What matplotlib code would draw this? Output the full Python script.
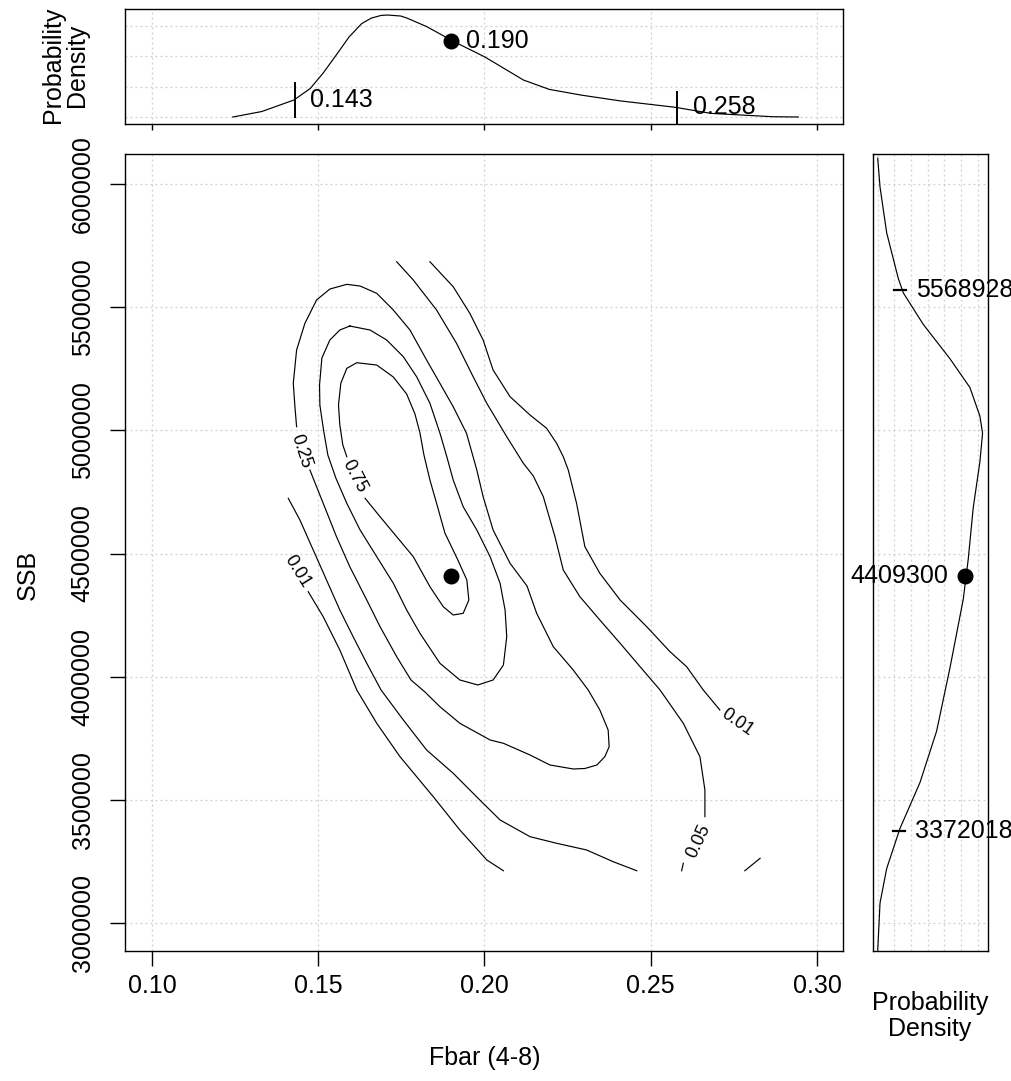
import matplotlib
matplotlib.use('Agg')
import matplotlib.pyplot as plt

plt.rcParams['font.family'] = ['Liberation Sans', 'DejaVu Sans']

# ---------------- data ----------------
# marginal density of Fbar (top panel)
fbar_x = [0.1243, 0.1330, 0.1427, 0.1476, 0.1515, 0.1554, 0.1593, 0.1631, 0.1660,
          0.1690, 0.1709, 0.1748, 0.1767, 0.1826, 0.1909, 0.2001, 0.2117, 0.2195,
          0.2292, 0.2409, 0.2574, 0.2681, 0.2866, 0.2944]
fbar_dens = [0.0, 0.9, 2.8, 4.7, 7.25, 10.2, 13.2, 15.4, 16.3,
             16.75, 16.8, 16.64, 16.3, 14.9, 12.4, 9.9, 6.1, 4.55,
             3.6, 2.65, 1.6, 0.6, 0.05, 0.0]
fbar_est, fbar_est_dens = 0.190, 12.45
fbar_lo, fbar_lo_dens = 0.143, 2.85
fbar_hi, fbar_hi_dens = 0.258, 1.6

# marginal density of SSB (right panel)
ssb_y = [6105000, 5988000, 5802000, 5616000, 5558000, 5430000, 5291000, 5174000,
         5058000, 4988000, 4872000, 4686000, 4477000, 4314000, 4035000, 3779000,
         3570000, 3384000, 3221000, 3081000, 2942000, 2890000]
ssb_dens = [0.0, 0.07, 0.27, 0.62, 0.77, 1.37, 2.17, 2.77,
            3.07, 3.15, 3.07, 2.87, 2.72, 2.57, 2.17, 1.77,
            1.27, 0.67, 0.27, 0.07, 0.02, 0.0]
ssb_est, ssb_est_dens = 4409300, 2.62
ssb_lo, ssb_lo_dens = 3372018, 0.64
ssb_hi, ssb_hi_dens = 5568928, 0.66

# contour lines of the joint density (Fbar, SSB)
c075_f = [0.1641, 0.1686, 0.1736, 0.1786, 0.1836, 0.1876, 0.1906, 0.1936, 0.1953,
          0.1947, 0.1920, 0.1881, 0.1856, 0.1836, 0.1818, 0.1806, 0.1791, 0.1766,
          0.1726, 0.1676, 0.1616, 0.1586, 0.1568, 0.1561, 0.1565, 0.1574, 0.1586]
c075_s = [4724100, 4649400, 4568200, 4487000, 4365200, 4284100, 4250400, 4257200, 4311200,
          4392400, 4473600, 4583200, 4703800, 4798400, 4899900, 4989200, 5066300, 5147500,
          5216500, 5265200, 5274600, 5251800, 5191000, 5102900, 5021700, 4940500, 4893000]

c050_f = [0.1595, 0.1656, 0.1706, 0.1756, 0.1796, 0.1836, 0.1866, 0.1887, 0.1906,
          0.1936, 0.1977, 0.2017, 0.2047, 0.2062, 0.2067, 0.2057, 0.2026, 0.1980,
          0.1926, 0.1866, 0.1806, 0.1766, 0.1726, 0.1676, 0.1626, 0.1586, 0.1553,
          0.1529, 0.1516, 0.1505, 0.1504, 0.1511, 0.1535, 0.1565, 0.1595]
c050_s = [5423600, 5407300, 5366700, 5298900, 5217700, 5109800, 4989200, 4891800, 4798400,
          4690000, 4595400, 4487000, 4379000, 4270600, 4162300, 4047400, 3986500, 3966200,
          3986500, 4054300, 4176100, 4270600, 4379000, 4487000, 4595400, 4703800, 4806500,
          4899900, 5001400, 5102900, 5184000, 5293600, 5366700, 5407300, 5423600]

c025_f = [0.1475, 0.1515, 0.1555, 0.1595, 0.1646, 0.1686, 0.1736, 0.1779, 0.1821,
          0.1866, 0.1926, 0.2017, 0.2057, 0.2137, 0.2197, 0.2267, 0.2302, 0.2338,
          0.2362, 0.2375, 0.2372, 0.2347, 0.2312, 0.2267, 0.2207, 0.2157, 0.2128,
          0.2077, 0.2026, 0.1996, 0.1977, 0.1946, 0.1906, 0.1866, 0.1826, 0.1776,
          0.1726, 0.1676, 0.1626, 0.1586, 0.1535, 0.1495, 0.1460, 0.1435, 0.1425,
          0.1430, 0.1435]
c025_s = [4839000, 4703800, 4568200, 4446400, 4311200, 4202900, 4081100, 3986500, 3937800,
          3878100, 3810700, 3742900, 3729500, 3682000, 3641400, 3625200, 3627200, 3641400,
          3675100, 3715700, 3783500, 3864700, 3945900, 4027100, 4121700, 4257200, 4368100,
          4460200, 4595400, 4730600, 4839000, 4988000, 5096000, 5191000, 5285500, 5407300,
          5488500, 5556300, 5585900, 5592800, 5573800, 5529100, 5434500, 5326100, 5191000,
          5096000, 5014800]

c005_right_f = [0.1736, 0.1786, 0.1856, 0.1916, 0.1966, 0.2007, 0.2067, 0.2117, 0.2147,
                0.2177, 0.2212, 0.2237, 0.2287, 0.2347, 0.2408, 0.2468, 0.2528, 0.2598,
                0.2648, 0.2663, 0.2663]
c005_right_s = [5684600, 5610300, 5488500, 5353300, 5217700, 5109800, 4974200, 4866200, 4814600,
                4730600, 4568200, 4433000, 4324700, 4230100, 4135500, 4040500, 3945900, 3810700,
                3675100, 3539900, 3431600]
c005_tail_f = [0.2598, 0.2593]
c005_tail_s = [3242400, 3212000]

c005_left_f = [0.1410, 0.1445, 0.1485, 0.1525, 0.1565, 0.1605, 0.1646, 0.1689, 0.1756,
               0.1826, 0.1906, 0.1986, 0.2047, 0.2137, 0.2217, 0.2307, 0.2387, 0.2458]
c005_left_s = [4724100, 4636000, 4514200, 4392400, 4270600, 4162300, 4054300, 3945900, 3824100,
               3702300, 3607700, 3499300, 3418100, 3350400, 3323600, 3296400, 3248900, 3212000]

c001_right_f = [0.1836, 0.1906, 0.1956, 0.1996, 0.2026, 0.2077, 0.2137, 0.2187, 0.2217,
                0.2237, 0.2252, 0.2277, 0.2302, 0.2347, 0.2408, 0.2488, 0.2558, 0.2608,
                0.2658, 0.2708]
c001_right_s = [5684600, 5583100, 5475100, 5366700, 5244900, 5136600, 5062300, 5008300, 4947400,
                4893000, 4839000, 4703800, 4527600, 4419600, 4311200, 4202900, 4101400, 4040500,
                3945900, 3864700]
c001_corner_f = [0.2783, 0.2829]
c001_corner_s = [3212000, 3262700]

c001_left_f = [0.1470, 0.1515, 0.1565, 0.1616, 0.1676, 0.1746, 0.1846, 0.1926, 0.2007, 0.2057]
c001_left_s = [4344900, 4243400, 4108300, 3945900, 3810700, 3675100, 3512700, 3377500,
               3255800, 3212000]

# contour labels: text, position, angle
clabels = [("0.25", 0.1447, 4916000, -72),
           ("0.75", 0.1608, 4814600, -62),
           ("0.01", 0.1436, 4428900, -58),
           ("0.05", 0.2645, 3333000, 65),
           ("0.01", 0.2759, 3816000, -35)]

x_ticks = [0.10, 0.15, 0.20, 0.25, 0.30]
y_ticks = [3000000, 3500000, 4000000, 4500000, 5000000, 5500000, 6000000]
top_grid = [0, 5, 10, 15]
right_grid = [0, 0.5, 1.0, 1.5, 2.0, 2.5, 3.0]

# ---------------- drawing ----------------
FS = 18
GRID = dict(color='#CFCFCF', lw=0.9, ls=(0, (1.5, 2.5)), zorder=0)

fig = plt.figure(figsize=(10.11, 10.81), dpi=100)
ax = fig.add_axes([0.1236, 0.1203, 0.7102, 0.7372])
axt = fig.add_axes([0.1236, 0.8853, 0.7102, 0.1064])
axr = fig.add_axes([0.8635, 0.1203, 0.1137, 0.7372])

xlim = (0.09188, 0.30782)
ylim = (2886400, 6121800)

# main panel
ax.set_xlim(*xlim)
ax.set_ylim(*ylim)
for v in x_ticks:
    ax.axvline(v, **GRID)
for v in y_ticks:
    ax.axhline(v, **GRID)

lk = dict(color='black', lw=0.85, zorder=2)
ax.plot(c075_f, c075_s, **lk)
ax.plot(c050_f, c050_s, **lk)
ax.plot(c025_f, c025_s, **lk)
ax.plot(c005_right_f, c005_right_s, **lk)
ax.plot(c005_tail_f, c005_tail_s, **lk)
ax.plot(c005_left_f, c005_left_s, **lk)
ax.plot(c001_right_f, c001_right_s, **lk)
ax.plot(c001_corner_f, c001_corner_s, **lk)
ax.plot(c001_left_f, c001_left_s, **lk)
for txt, fx, sy, rot in clabels:
    ax.text(fx, sy, txt, rotation=rot, ha='center', va='center', fontsize=13,
            rotation_mode='anchor', zorder=3)
ax.plot([fbar_est], [ssb_est], 'o', color='black', ms=10.5, zorder=4)

ax.set_xticks(x_ticks)
ax.set_xticklabels([f"{v:.2f}" for v in x_ticks])
ax.set_yticks(y_ticks)
ax.set_yticklabels([str(v) for v in y_ticks], rotation=90, va='center')
ax.tick_params(axis='both', direction='out', length=10.8, width=1.0, labelsize=FS,
               colors='black')
ax.tick_params(axis='x', pad=6)
ax.tick_params(axis='y', pad=11)

# top panel
axt.set_xlim(*xlim)
axt.set_ylim(-1.15, 17.8)
for v in x_ticks:
    axt.axvline(v, **GRID)
for v in top_grid:
    axt.axhline(v, **GRID)
axt.plot(fbar_x, fbar_dens, color='black', lw=0.85, zorder=2)
axt.plot([fbar_lo, fbar_lo], [fbar_lo_dens - 2.8, fbar_lo_dens + 2.8], color='black',
         lw=1.4, clip_on=False, zorder=3)
axt.plot([fbar_hi, fbar_hi], [fbar_hi_dens - 2.6, fbar_hi_dens + 2.6], color='black',
         lw=1.4, clip_on=False, zorder=3)
axt.plot([fbar_est], [fbar_est_dens], 'o', color='black', ms=10.5, zorder=4)
for v, d in [(fbar_lo, fbar_lo_dens), (fbar_est, fbar_est_dens), (fbar_hi, fbar_hi_dens)]:
    axt.annotate(f"{v:.3f}", xy=(v, d), xytext=(11, 0), textcoords='offset points',
                 ha='left', va='center', fontsize=FS, zorder=5)
axt.set_xticks(x_ticks)
axt.set_xticklabels([])
axt.set_yticks([])
axt.tick_params(axis='x', direction='out', length=4, width=1.0)

# right panel
axr.set_xlim(-0.141, 3.312)
axr.set_ylim(*ylim)
for v in right_grid:
    axr.axvline(v, **GRID)
for v in y_ticks:
    axr.axhline(v, **GRID)
axr.plot(ssb_dens, ssb_y, color='black', lw=0.85, zorder=2)
for d, v in [(ssb_hi_dens, ssb_hi), (ssb_lo_dens, ssb_lo)]:
    axr.plot([d - 0.18, d + 0.18], [v, v], color='black', lw=1.6, zorder=3)
    axr.annotate(str(v), xy=(d, v), xytext=(11.5, 0), textcoords='offset points',
                 ha='left', va='center', fontsize=FS, annotation_clip=False, zorder=5)
axr.plot([ssb_est_dens], [ssb_est], 'o', color='black', ms=10.5, zorder=4,
         clip_on=False)
axr.annotate(str(ssb_est), xy=(ssb_est_dens, ssb_est), xytext=(-12, 0),
             textcoords='offset points', ha='right', va='center', fontsize=FS, zorder=5)
axr.set_xticks([])
axr.set_yticks([])

for a in (ax, axt, axr):
    for s in a.spines.values():
        s.set_linewidth(1.0)
        s.set_color('black')

# axis titles
fig.text(0.4797, 1 - 1058 / 1081, "Fbar (4-8)", ha='center', va='center', fontsize=FS)
fig.text(28 / 1011, 1 - 575 / 1081, "SSB", ha='center', va='center', fontsize=FS,
         rotation=90)
fig.text(65 / 1011, 1 - 65 / 1081, "Probability\nDensity", ha='center', va='center',
         fontsize=FS, rotation=90, linespacing=1.0)
fig.text(930 / 1011, 1 - 1016 / 1081, "Probability\nDensity", ha='center', va='center',
         fontsize=FS, linespacing=1.1)

fig.savefig('out.png', dpi=100)
